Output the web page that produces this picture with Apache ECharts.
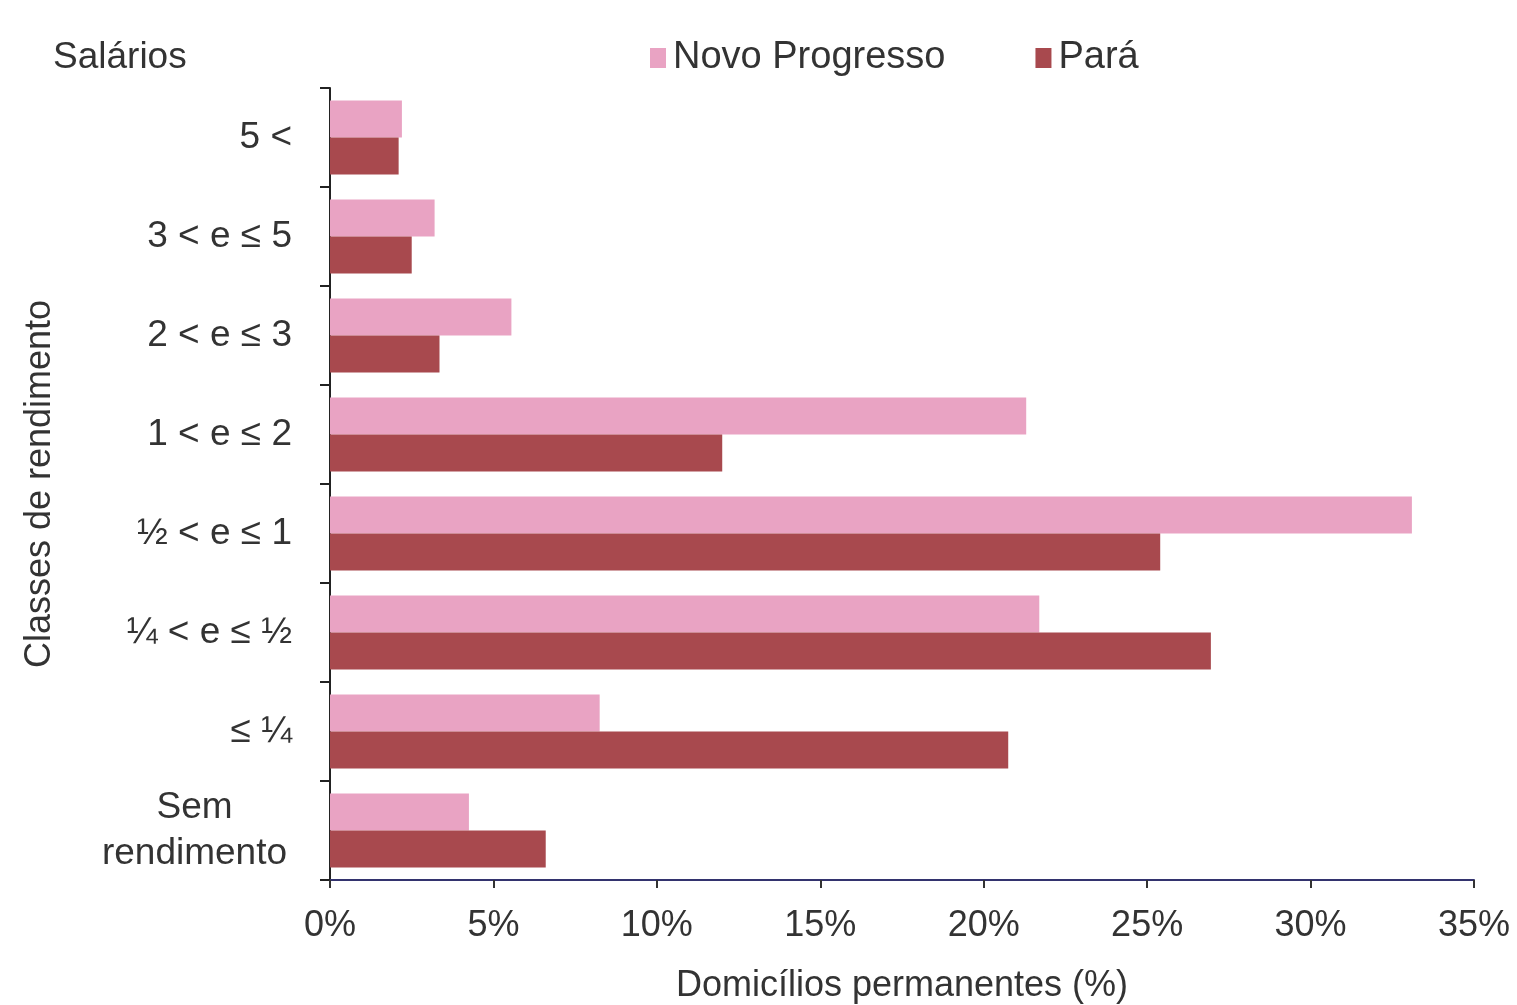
<!DOCTYPE html>
<html><head><meta charset="utf-8">
<script src="https://cdn.jsdelivr.net/npm/echarts@6/dist/echarts.min.js"></script>
<style>html,body{margin:0;padding:0;background:#fff}#c{width:1517px;height:1005px}</style>
</head><body><div id="c"></div>
<script>
const categories = ['Sem\nrendimento', '≤ ¼', '¼ < e ≤ ½', '½ < e ≤ 1', '1 < e ≤ 2', '2 < e ≤ 3', '3 < e ≤ 5', '5 <'];
const novoProgresso = [4.25, 8.25, 21.7, 33.1, 21.3, 5.55, 3.2, 2.2];
const para = [6.6, 20.75, 26.95, 25.4, 12.0, 3.35, 2.5, 2.1];
const xTicks = [0, 5, 10, 15, 20, 25, 30, 35];
const seriesNames = ['Novo Progresso', 'Pará'];

const font = 'Liberation Sans, Arial, sans-serif';
const chart = echarts.init(document.getElementById('c'));
chart.setOption({
  animation: false,
  backgroundColor: '#fff',
  textStyle: { fontFamily: font },
  title: {
    text: 'Salários', left: 48, top: 34,
    textStyle: { fontFamily: font, fontSize: 37, fontWeight: 'normal', color: '#333' }
  },
  legend: {
    data: seriesNames, left: 645, top: 34, itemWidth: 16, itemHeight: 20, itemGap: 90,
    icon: 'rect',
    textStyle: { fontFamily: font, fontSize: 38, color: '#333', padding: [0, 0, 0, 2] }
  },
  grid: { left: 330, right: 43, top: 88, bottom: 125, containLabel: false, outerBoundsMode: 'none' },
  xAxis: {
    type: 'value', min: xTicks[0], max: xTicks[xTicks.length - 1], interval: 5,
    name: 'Domicílios permanentes (%)', nameLocation: 'middle', nameGap: 88,
    nameTextStyle: { fontFamily: font, fontSize: 36, color: '#333' },
    axisLine: { show: true, lineStyle: { color: '#33336e', width: 2 } },
    axisTick: { show: true, length: 8, lineStyle: { color: '#333', width: 2 } },
    axisLabel: { fontFamily: font, fontSize: 36, color: '#333', margin: 28, formatter: v => v + '%' },
    splitLine: { show: false }
  },
  yAxis: {
    type: 'category', data: categories,
    name: 'Classes de rendimento', nameLocation: 'middle', nameGap: 272, nameRotate: 90,
    nameTextStyle: { fontFamily: font, fontSize: 36, color: '#333' },
    axisLine: { show: true, lineStyle: { color: '#222', width: 2 } },
    axisTick: { show: true, length: 10, inside: false, alignWithLabel: false, lineStyle: { color: '#222', width: 2 } },
    axisLabel: {
      fontFamily: font, fontSize: 37, color: '#333', margin: 38, lineHeight: 46,
      formatter: function (v) {
        if (v.indexOf('\n') >= 0) {
          return v.split('\n').map(s => '{c|' + s + '}').join('\n');
        }
        return v;
      },
      rich: { c: { width: 195, align: 'center', fontFamily: font, fontSize: 37, color: '#333', lineHeight: 46 } }
    }
  },
  series: [
    {
      name: seriesNames[0], type: 'bar', data: novoProgresso,
      itemStyle: { color: '#e9a3c3' }, barWidth: 37, barGap: '0%'
    },
    {
      name: seriesNames[1], type: 'bar', data: para,
      itemStyle: { color: '#a8494e' }, barWidth: 37, barGap: '0%'
    }
  ]
});
</script></body></html>
